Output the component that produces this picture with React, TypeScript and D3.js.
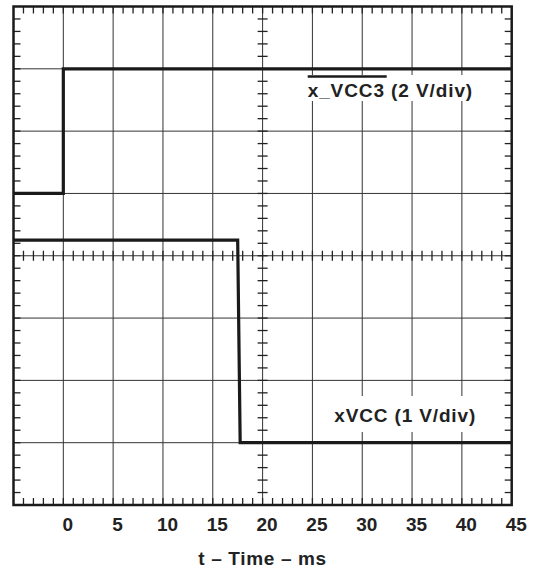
import React from 'react'
import * as d3 from 'd3'

// time axis, ms
const timeTicks = [0, 5, 10, 15, 20, 25, 30, 35, 40, 45]

// x_VCC3 trace, 2 V/div, ground at division 5
const vcc3Time = [-5, 0, 0, 45]
const vcc3Volts = [0, 0, 4, 4]

// xVCC trace, 1 V/div, ground at division 1
const xvccTime = [-5, 17.5, 17.75, 45]
const xvccVolts = [3.25, 3.25, 0, 0]

const W = 536
const H = 572
const FONT = '"Liberation Sans", Arial, Helvetica, sans-serif'

function App() {
  const x = d3.scaleLinear().domain([-5, 45]).range([13.5, 511.7])
  const y = d3.scaleLinear().domain([0, 8]).range([505, 6.5])

  const line = d3
    .line<[number, number]>()
    .x(d => x(d[0]))
    .y(d => y(d[1]))

  const vcc3Pts: [number, number][] = vcc3Time.map((t, i) => [t, 5 + vcc3Volts[i] / 2])
  const xvccPts: [number, number][] = xvccTime.map((t, i) => [t, 1 + xvccVolts[i] / 1])

  const majorX = d3.range(0, 45, 5)
  const majorY = d3.range(1, 8, 1)
  const minorX = d3.range(-4, 45, 1)
  const minorY = d3.range(0.2, 8, 0.2)

  const x0 = x(-5)
  const x1 = x(45)
  const yTop = y(8)
  const yBot = y(0)
  const cx = x(20)
  const cy = y(4)

  return (
    <svg
      width={W}
      height={H}
      style={{position: 'absolute', left: 0, top: 0, background: '#fff'}}
      fontFamily={FONT}>
      {/* grid */}
      <g stroke="#333" strokeWidth={1}>
        {majorX.map(t => (
          <line key={'gx' + t} x1={x(t)} x2={x(t)} y1={yTop} y2={yBot} />
        ))}
        {majorY.map(d => (
          <line key={'gy' + d} x1={x0} x2={x1} y1={y(d)} y2={y(d)} />
        ))}
      </g>
      {/* minor ticks */}
      <g stroke="#222" strokeWidth={1.3}>
        {minorX.map(t => (
          <g key={'tx' + t}>
            <line x1={x(t)} x2={x(t)} y1={yTop} y2={yTop + 7} />
            <line x1={x(t)} x2={x(t)} y1={yBot} y2={yBot - 7} />
            <line x1={x(t)} x2={x(t)} y1={cy - 5} y2={cy + 5} />
          </g>
        ))}
        {minorY.map(d => (
          <g key={'ty' + d}>
            <line x1={x0} x2={x0 + 7} y1={y(d)} y2={y(d)} />
            <line x1={x1} x2={x1 - 7} y1={y(d)} y2={y(d)} />
            <line x1={cx - 5} x2={cx + 5} y1={y(d)} y2={y(d)} />
          </g>
        ))}
      </g>
      {/* label backgrounds */}
      <rect x={305} y={75} width={171} height={26} fill="#fff" />
      <rect x={332} y={396} width={146} height={36} fill="#fff" />
      {/* traces */}
      <path d={line(vcc3Pts) || ''} fill="none" stroke="#1a1a1a" strokeWidth={3.2} />
      <path d={line(xvccPts) || ''} fill="none" stroke="#1a1a1a" strokeWidth={3.2} />
      {/* frame */}
      <rect
        x={x0}
        y={yTop}
        width={x1 - x0}
        height={yBot - yTop}
        fill="none"
        stroke="#1a1a1a"
        strokeWidth={2.5}
      />
      {/* trace labels */}
      <text x={307.7} y={96.7} fontSize={19} fontWeight="bold" fill="#222" letterSpacing={0.9}>
        x_VCC3 (2 V/div)
      </text>
      <line x1={307.7} x2={386.7} y1={76.5} y2={76.5} stroke="#1a1a1a" strokeWidth={2.5} />
      <text x={334.3} y={421.7} fontSize={19} fontWeight="bold" fill="#222" letterSpacing={0.85}>
        xVCC (1 V/div)
      </text>
      {/* tick labels */}
      {timeTicks.map(t => (
        <text
          key={'l' + t}
          x={x(t) + 4.5}
          y={530.7}
          textAnchor="middle"
          fontSize={19}
          fontWeight="bold"
          fill="#222">
          {t}
        </text>
      ))}
      <text x={198.3} y={565} fontSize={19} fontWeight="bold" fill="#222" letterSpacing={0.65}>
        t – Time – ms
      </text>
    </svg>
  )
}

export default App
